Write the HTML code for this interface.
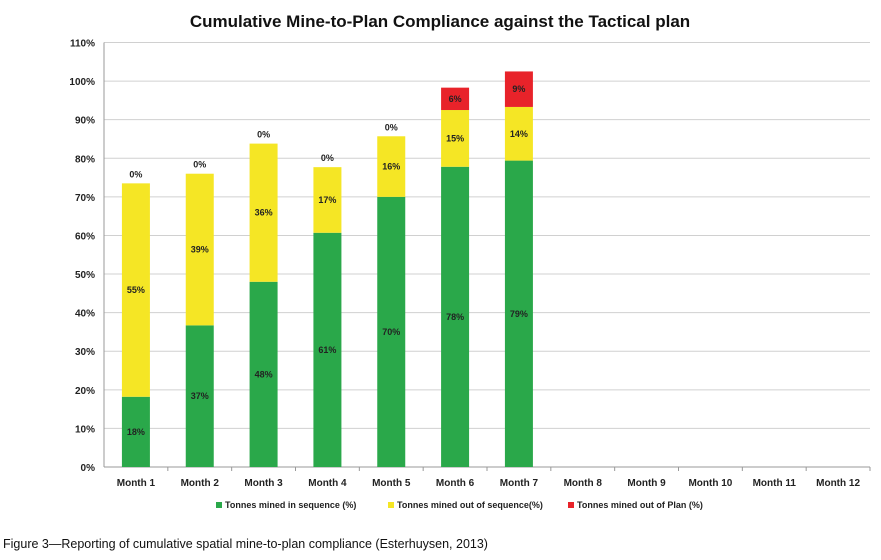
<!DOCTYPE html>
<html><head><meta charset="utf-8"><style>
body{margin:0;background:#fff;width:881px;height:555px;overflow:hidden;font-family:"Liberation Sans",sans-serif}
</style></head><body>
<svg id="c" width="881" height="555"></svg>
<script>
const categories=["Month 1","Month 2","Month 3","Month 4","Month 5","Month 6","Month 7","Month 8","Month 9","Month 10","Month 11","Month 12"];
const inSeq=[18.2,36.7,48,60.7,70,77.8,79.4,null,null,null,null,null];
const outSeq=[55.3,39.3,35.8,17,15.7,14.7,13.9,null,null,null,null,null];
const outPlan=[0,0,0,0,0,5.8,9.2,null,null,null,null,null];
const inSeqLbl=["18%","37%","48%","61%","70%","78%","79%"];
const outSeqLbl=["55%","39%","36%","17%","16%","15%","14%"];
const outPlanLbl=["0%","0%","0%","0%","0%","6%","9%"];
const yTicks=[0,10,20,30,40,50,60,70,80,90,100,110];
const NS="http://www.w3.org/2000/svg";
const svg=document.getElementById('c');
const x0=104,x1=870,y0=467,yTop=42.5;
const y=v=>y0-(v/110)*(y0-yTop);
const bw=(x1-x0)/categories.length;
const xc=i=>x0+bw*(i+0.5);
function mk(t,a,txt){const e=document.createElementNS(NS,t);for(const k in a)e.setAttribute(k,a[k]);if(txt!=null)e.textContent=txt;svg.appendChild(e);return e;}
let e=mk('text',{x:440,y:27,'text-anchor':'middle','font-size':17,'font-weight':'bold',fill:'#111'},'Cumulative Mine-to-Plan Compliance against the Tactical plan');


yTicks.forEach(t=>{
 let g=mk('line',{x1:x0,x2:x1,y1:y(t),y2:y(t),stroke:t?'#d0d0d0':'#999','stroke-width':1});
 
 
 let l=mk('text',{x:95,y:y(t)+4,'text-anchor':'end','font-size':10,'font-weight':'bold',fill:'#222'},t+'%');
 
 
});
let ax=mk('line',{x1:x0,x2:x0,y1:yTop,y2:y0,stroke:'#999'});


categories.forEach((c,i)=>{
 let tk=mk('line',{x1:x0+bw*(i+1),x2:x0+bw*(i+1),y1:y0,y2:y0+4,stroke:'#999'});
 
 
 let l=mk('text',{x:xc(i),y:486,'text-anchor':'middle','font-size':10,'font-weight':'bold',fill:'#222'},c);
 
 
 if(inSeq[i]==null)return;
 const w=28,bx=xc(i)-w/2;
 const a=inSeq[i],b=a+outSeq[i],cc=b+outPlan[i];
 let r=mk('rect',{x:bx,y:y(a),width:w,height:y(0)-y(a),fill:'#2aa84a'});
 
 
 r=mk('rect',{x:bx,y:y(b),width:w,height:y(a)-y(b),fill:'#f5e625'});
 
 
 if(outPlan[i]>0){r=mk('rect',{x:bx,y:y(cc),width:w,height:y(b)-y(cc),fill:'#e8232a'});
 
 }
 const f={'text-anchor':'middle','font-size':9,'font-weight':'bold',fill:'#222'};
 let t1=mk('text',Object.assign({x:xc(i),y:(y(0)+y(a))/2+3},f),inSeqLbl[i]);
 
 
 let t2=mk('text',Object.assign({x:xc(i),y:(y(a)+y(b))/2+3},f),outSeqLbl[i]);
 
 
 let ty=outPlan[i]>0?(y(b)+y(cc))/2+3:y(b)-6;
 let t3=mk('text',Object.assign({x:xc(i),y:ty},f),outPlanLbl[i]);
 
 
});
const leg=[["Tonnes mined in sequence (%)","#2aa84a",216],["Tonnes mined out of sequence(%)","#f5e625",388],["Tonnes mined out of Plan (%)","#e8232a",568]];
leg.forEach(l=>{
 let r=mk('rect',{x:l[2],y:502,width:6,height:6,fill:l[1]});
 
 
 let t=mk('text',{x:l[2]+9,y:508,'font-size':9,'font-weight':'bold',fill:'#222'},l[0]);
 
 
});
let cap=mk('text',{x:3,y:548,'font-size':12.5,fill:'#111'},'Figure 3\u2014Reporting of cumulative spatial mine-to-plan compliance (Esterhuysen, 2013)');


</script>
</body></html>
